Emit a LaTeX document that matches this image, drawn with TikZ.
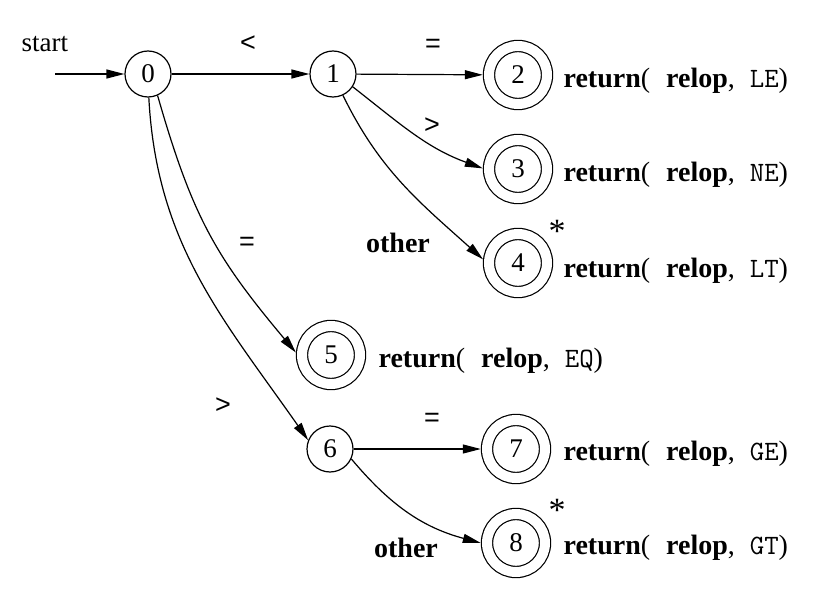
\documentclass[tikz,border=0pt]{standalone}
\usepackage{fontspec}
\setmainfont{Liberation Serif}
\setsansfont{Liberation Sans}
\usetikzlibrary{arrows.meta}
\begin{document}
\begin{tikzpicture}[x=1pt,y=1pt,
  line width=1.2pt,
  every node/.style={font=\fontsize{27}{32}\selectfont, inner sep=0pt},
  st/.style={draw, circle, minimum size=46pt},
  acc/.style={draw, circle, double, double distance=10pt, minimum size=58pt, outer sep=6.2pt},
  edge/.style={-{Triangle[length=18pt,width=9pt]}},
  lbl/.style={font=\fontsize{27}{32}\selectfont\sffamily},
  blbl/.style={font=\fontsize{28}{32}\selectfont\bfseries},
  ret/.style={anchor=base west, font=\fontsize{28}{32}\selectfont},
  star/.style={anchor=base, font=\fontsize{34}{36}\selectfont}
]
\useasboundingbox (0,0) rectangle (833,-607);
\newcommand{\rettext}[1]{\textbf{return}(\hspace{16pt}\textbf{relop},\hspace{15pt}\texttt{#1})}

\node[anchor=base west] (start) at (21,-52) {start};
\coordinate (s) at (55,-74);

\node[st]  (n0) at (148,-74) {0};
\node[st]  (n1) at (333,-74) {1};
\node[acc] (n2) at (518,-75) {2};
\node[acc] (n3) at (518,-169) {3};
\node[acc] (n4) at (518,-263) {4};
\node[acc] (n5) at (331,-355) {5};
\node[st]  (n6) at (330,-449) {6};
\node[acc] (n7) at (516,-449) {7};
\node[acc] (n8) at (516,-543) {8};

\draw[edge] (s) -- (n0);
\draw[edge] (n0) -- (n1);
\draw[edge] (n1) -- (n2);
\draw[edge] (n1.-33) to[out=-38,in=160] (n3.179);
\draw[edge] (n1.-65) to[out=-64,in=138] (n4.174);
\draw[edge] (n0.-66) to[out=-74,in=130,looseness=1.1] (n5.176);
\draw[edge] (n0.-88) to[out=-87,in=125] (n6.158);
\draw[edge] (n6) -- (n7);
\draw[edge] (n6.-25) to[out=-50,in=165] (n8.180);

\node[lbl] (l01) at (248,-44) {<};
\node[lbl] (l12) at (433,-46) {=};
\node[lbl] (l13) at (432,-126) {>};
\node[blbl] (l14) at (398,-243) {other};
\node[lbl] (l05) at (247,-244) {=};
\node[lbl] (l06) at (223,-406) {>};
\node[lbl] (l67) at (432,-420) {=};
\node[blbl] (l68) at (406,-548) {other};

\node[star] (s4) at (557,-242) {*};
\node[star] (s8) at (557,-521) {*};

\node[ret] (r2) at (563,-88)  {\rettext{LE}};
\node[ret] (r3) at (563,-182) {\rettext{NE}};
\node[ret] (r4) at (563,-277) {\rettext{LT}};
\node[ret] (r5) at (378,-367) {\rettext{EQ}};
\node[ret] (r7) at (563,-460) {\rettext{GE}};
\node[ret] (r8) at (563,-554) {\rettext{GT}};
\end{tikzpicture}
\end{document}
